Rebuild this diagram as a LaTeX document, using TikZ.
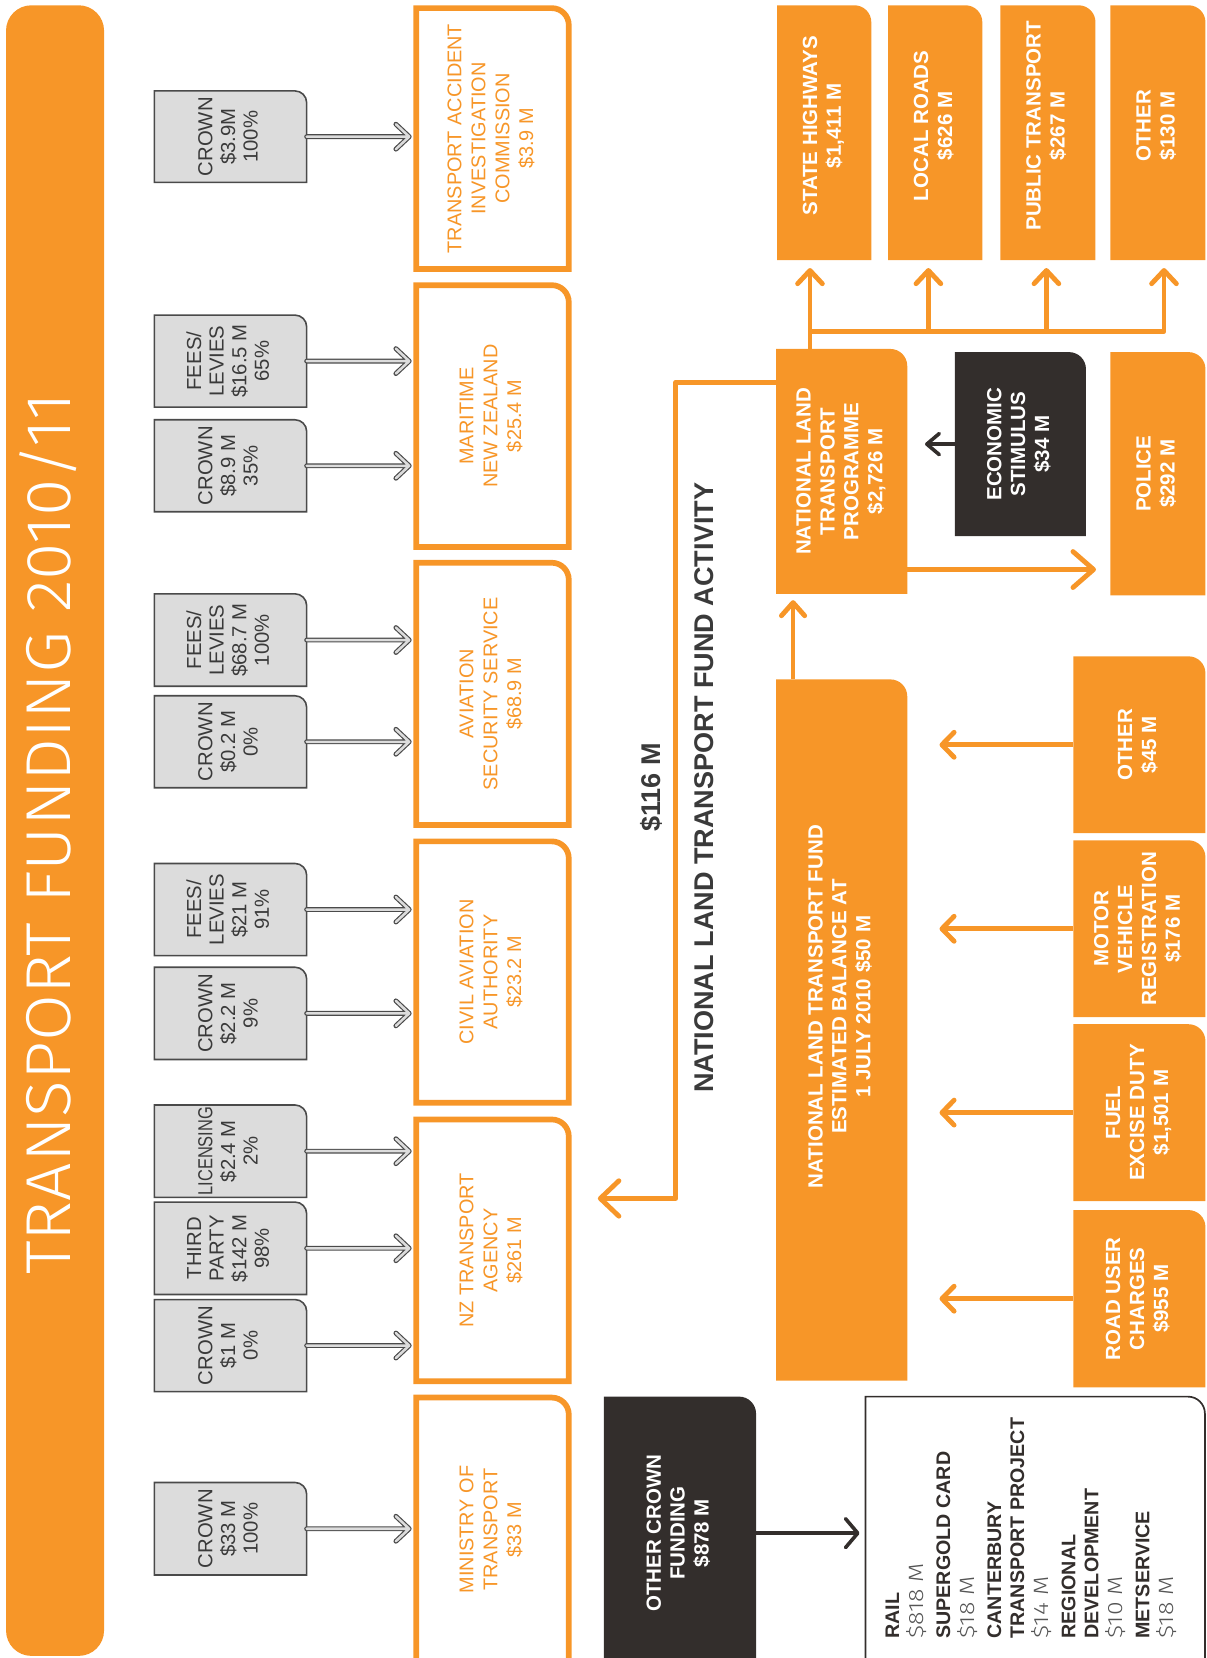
\documentclass[tikz,border=0pt]{standalone}
\usepackage{fontspec}
\usepackage{graphicx}
\setmainfont{Liberation Sans}
\newfontfamily\lightfont{Fira Sans Light}[FakeStretch=1.2]
\newfontfamily\titlefont{Fira Sans Light}[FakeStretch=1.07]
\usetikzlibrary{arrows.meta,calc,backgrounds}
\definecolor{ntorange}{HTML}{F79628}
\definecolor{ntdark}{HTML}{332E2C}
\definecolor{ntgray}{HTML}{DCDCDC}
\definecolor{nttext}{HTML}{3A3A3A}
\definecolor{ntline}{HTML}{4A4A4A}
\definecolor{ntval}{HTML}{555555}
\newcommand\rtx[2][0pt]{\rotatebox{90}{\hspace*{#1}\begin{tabular}{@{}c@{}}#2\end{tabular}}}
\newcommand\mkbox[7]{\node[bx,#1,minimum width={(#5-#3)*0.5pt},minimum height={(#6-#4)*0.5pt}] (#2) at ({(#3+#5)/2},{-(#4+#6)/2}) {#7};}
\newcommand\oneround[3]{\path[#2] (#1.south west) -- (#1.north west) -- ([xshift=-#3]#1.north east) arc[start angle=90,end angle=0,radius=#3] -- (#1.south east) -- cycle;}
\newcommand\valtxt[1]{{\mdseries\lightfont\fontsize{9.8}{10.9}\selectfont\color{ntval}#1}}
\newcommand\garrow[2]{%
  \coordinate (t#1) at ($(#1.east -| #2.west)+(-3.35pt,0)$);
  \draw[garr] (#1.east) -- (t#1) ($(t#1)+(-6.3pt,5.9pt)$) -- (t#1) -- ($(t#1)+(-6.3pt,-5.9pt)$);}
\tikzset{
  bx/.style={rectangle,inner sep=0pt,outer sep=0pt},
  titlebox/.style={fill=ntorange,rounded corners=12pt,text=white,font=\titlefont\fontsize{30}{30}\selectfont},
  gtxt/.style={font=\fontsize{9.6}{10.7}\selectfont,text=nttext},
  atxt/.style={font=\fontsize{9.4}{11.3}\selectfont,text=ntorange},
  wtxt/.style={font=\bfseries\fontsize{9.7}{11.3}\selectfont,text=white},
  grayshape/.style={fill=ntgray,draw=ntline,line width=0.75pt},
  agshape/.style={fill=white,draw=ntorange,line width=2.7pt},
  orshape/.style={fill=ntorange},
  dkshape/.style={fill=ntdark},
  lstshape/.style={fill=white,draw=ntdark,line width=0.8pt},
  garr/.style={draw=ntline,line width=0.55pt,double=ntgray,double distance=1.2pt,line cap=round,line join=round},
  oline/.style={draw=ntorange,line width=2.3pt,line join=round},
  dline/.style={draw=ntdark,line width=1.7pt,line join=round},
  lbl/.style={rotate=90,font=\bfseries\fontsize{12.8}{14}\selectfont,text=nttext,inner sep=0pt}
}
\begin{document}
\begin{tikzpicture}[x=0.5pt,y=0.5pt]
\useasboundingbox (0,0) rectangle (1141,-1568);
\clip (0,0) rectangle (1141,-1568);
% title
\mkbox{titlebox}{title}{5.7}{5}{98.4}{1566}{\rtx[-3pt]{TRANSPORT FUNDING 2010/11}}
% gray source boxes
\mkbox{gtxt}{g1}{146}{86}{290}{172.5}{\rtx{CROWN\\\$3.9M\\100\%}}
\mkbox{gtxt}{g2}{146}{298}{290}{385}{\rtx{FEES/\\LEVIES\\\$16.5 M\\65\%}}
\mkbox{gtxt}{g3}{146}{397}{290}{484}{\rtx{CROWN\\\$8.9 M\\35\%}}
\mkbox{gtxt}{g4}{146}{561.6}{290}{649}{\rtx{FEES/\\LEVIES\\\$68.7 M\\100\%}}
\mkbox{gtxt}{g5}{146}{658}{290}{745}{\rtx{CROWN\\\$0.2 M\\0\%}}
\mkbox{gtxt}{g6}{146}{816.6}{290}{903.7}{\rtx{FEES/\\LEVIES\\\$21 M\\91\%}}
\mkbox{gtxt}{g7}{146}{914.7}{290}{1002}{\rtx{CROWN\\\$2.2 M\\9\%}}
\mkbox{gtxt}{g8}{146}{1045}{290}{1132.4}{\rtx{\scalebox{0.81}[1]{LICENSING}\\\$2.4 M\\2\%}}
\mkbox{gtxt}{g9}{146}{1136.8}{290}{1224.2}{\rtx{THIRD\\PARTY\\\$142 M\\98\%}}
\mkbox{gtxt}{g10}{146}{1229}{290}{1316}{\rtx{CROWN\\\$1 M\\0\%}}
\mkbox{gtxt}{g11}{146}{1402}{290}{1489.5}{\rtx{CROWN\\\$33 M\\100\%}}
% agencies
\mkbox{atxt}{a1}{393.7}{7.7}{537.9}{254.3}{\rtx{TRANSPORT ACCIDENT\\INVESTIGATION\\COMMISSION\\\$3.9 M}}
\mkbox{atxt}{a2}{393.7}{269.7}{537.9}{517.3}{\rtx{MARITIME\\NEW ZEALAND\\\$25.4 M}}
\mkbox{atxt}{a3}{393.7}{532.2}{537.9}{780.3}{\rtx{AVIATION\\SECURITY SERVICE\\\$68.9 M}}
\mkbox{atxt}{a4}{393.7}{795.7}{537.9}{1042.9}{\rtx{CIVIL AVIATION\\AUTHORITY\\\$23.2 M}}
\mkbox{atxt}{a5}{393.7}{1058.7}{537.9}{1306.3}{\rtx{NZ TRANSPORT\\AGENCY\\\$261 M}}
\mkbox{atxt}{a6}{393.7}{1321.7}{537.9}{1571.3}{\rtx{MINISTRY OF\\TRANSPORT\\\$33 M}}
% right side
\mkbox{wtxt}{sh}{735}{5}{824}{246}{\rtx[6.5pt]{STATE HIGHWAYS\\\$1,411 M}}
\mkbox{wtxt}{lr}{840}{5}{929}{246}{\rtx[6.5pt]{LOCAL ROADS\\\$626 M}}
\mkbox{wtxt}{pt}{946}{5}{1036}{246}{\rtx[6.5pt]{PUBLIC TRANSPORT\\\$267 M}}
\mkbox{wtxt}{ot}{1050}{5}{1140}{246}{\rtx[6.5pt]{OTHER\\\$130 M}}
\mkbox{wtxt}{nltp}{734}{330}{858}{561.6}{\rtx{NATIONAL LAND\\TRANSPORT\\PROGRAMME\\\$2,726 M}}
\mkbox{wtxt}{econ}{903}{333}{1027}{507}{\rtx{ECONOMIC\\STIMULUS\\\$34 M}}
\mkbox{wtxt}{police}{1050}{333}{1140}{563}{\rtx{POLICE\\\$292 M}}
\mkbox{wtxt}{nltf}{734}{642.5}{858}{1305.6}{\rtx[22pt]{NATIONAL LAND TRANSPORT FUND\\ESTIMATED BALANCE AT\\1 JULY 2010 \$50 M}}
\mkbox{wtxt}{rother}{1015}{620.7}{1140}{788}{\rtx{OTHER\\\$45 M}}
\mkbox{wtxt}{rmotor}{1015}{794.7}{1140}{962}{\rtx{MOTOR\\VEHICLE\\REGISTRATION\\\$176 M}}
\mkbox{wtxt}{rfuel}{1015}{968.6}{1140}{1135.8}{\rtx{FUEL\\EXCISE DUTY\\\$1,501 M}}
\mkbox{wtxt}{rruc}{1015}{1144.4}{1140}{1312}{\rtx{ROAD USER\\CHARGES\\\$955 M}}
\mkbox{wtxt}{ocf}{571}{1320.8}{715}{1579}{\rtx{OTHER CROWN\\FUNDING\\\$878 M}}
\mkbox{}{lst}{818.5}{1320.8}{1139.5}{1580}{}
\node[rotate=90,anchor=north west,inner sep=0pt,align=left,font=\bfseries\fontsize{9.3}{10.9}\selectfont,text=ntdark] (lsttxt) at (837,-1550)
 {RAIL\\[0.6pt]\valtxt{\$818 M}\\[1.75pt]SUPERGOLD CARD\\[0.6pt]\valtxt{\$18 M}\\[1.75pt]CANTERBURY\\TRANSPORT PROJECT\\[0.6pt]\valtxt{\$14 M}\\[1.75pt]REGIONAL\\DEVELOPMENT\\[0.6pt]\valtxt{\$10 M}\\[1.75pt]METSERVICE\\[0.6pt]\valtxt{\$18 M}};
% labels
\node[lbl] (l116) at (616,-744.8) {\$116 M};
\node[lbl] (lact) at (665.5,-745) {NATIONAL LAND TRANSPORT FUND ACTIVITY};
% shapes on background
\begin{scope}[on background layer]
\clip (0,0) rectangle (1141,-1568);
\foreach \n in {g1,g2,g3,g4,g5,g6,g7,g8,g9,g10,g11}{\oneround{\n}{grayshape}{5.5pt}}
\foreach \n in {a1,a2,a3,a4,a5,a6}{\oneround{\n}{agshape}{8pt}}
\foreach \n in {sh,lr,pt,ot,nltp,police,nltf,rother,rmotor,rfuel,rruc}{\oneround{\n}{orshape}{8pt}}
\foreach \n in {econ,ocf}{\oneround{\n}{dkshape}{8pt}}
\oneround{lst}{lstshape}{8pt}
\end{scope}
% gray double arrows
\garrow{g1}{a1}
\garrow{g2}{a2}
\garrow{g3}{a2}
\garrow{g4}{a3}
\garrow{g5}{a3}
\garrow{g6}{a4}
\garrow{g7}{a4}
\garrow{g8}{a5}
\garrow{g9}{a5}
\garrow{g10}{a5}
\garrow{g11}{a6}
% NLTP to spending
\coordinate (tSH) at ($(sh.south west)+(15.5pt,-3.75pt)$);
\coordinate (tLR) at ($(lr.south west)+(19pt,-3.75pt)$);
\coordinate (tPT) at ($(pt.south west)+(21.8pt,-3.75pt)$);
\coordinate (tOT) at ($(ot.south west)+(25.4pt,-3.75pt)$);
\coordinate (bus) at ([yshift=8.25pt]nltp.north);
\draw[oline,-{Straight Barb[round,length=6.25pt,width=11.7pt]}] (tSH |- nltp.north) -- (tSH);
\draw[oline,-{Straight Barb[round,length=6.25pt,width=11.7pt]}] (tSH |- bus) -- (tOT |- bus) -- (tOT);
\draw[oline,-{Straight Barb[round,length=6.25pt,width=11.7pt]}] (tLR |- bus) -- (tLR);
\draw[oline,-{Straight Barb[round,length=6.25pt,width=11.7pt]}] (tPT |- bus) -- (tPT);
% NLTF to NLTP
\coordinate (tN) at ($(nltp.south west)+(8pt,-3pt)$);
\draw[oline,-{Straight Barb[round,length=6.2pt,width=11pt]}] (tN |- nltf.north) -- (tN);
% NLTP to police
\coordinate (tP) at ($(police.west)+(-6.75pt,0)$);
\coordinate (yP) at (0,-538.6);
\draw[oline,-{Straight Barb[round,length=9.75pt,width=17pt]}] (yP -| nltp.east) -- (tP |- yP);
% economic stimulus to NLTP
\coordinate (tE) at ($(nltp.east)+(8.4pt,0)$);
\draw[dline,-{Straight Barb[round,length=5.9pt,width=10pt]}] (econ.west) -- (econ.west -| tE);
% revenue to NLTF
\coordinate (tR) at ($(nltf.east)+(15.25pt,0)$);
\foreach \n in {rother,rmotor,rfuel,rruc}{\draw[oline,-{Straight Barb[round,length=5.75pt,width=11.8pt]}] (\n.west) -- (\n.west -| tR);}
% 116 M to NZTA
\coordinate (k1) at (639,-361.5);
\coordinate (k2) at (639,-1133.4);
\draw[oline,-{Straight Barb[round,length=8.8pt,width=16.75pt]}] (k1 -| nltp.west) -- (k1) -- (k2) -- ([xshift=13.75pt]k2 -| a5.east);
% other crown funding to list
\draw[dline,-{Straight Barb[round,length=5.8pt,width=13.7pt]}] (ocf.east) -- ([xshift=-2.8pt]ocf.east -| lst.west);
\end{tikzpicture}
\end{document}
